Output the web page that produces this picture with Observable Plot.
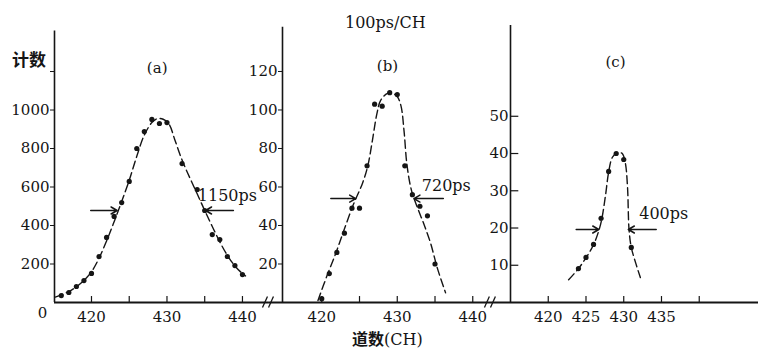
<!DOCTYPE html>
<html><head><meta charset="utf-8">
<script src="https://cdn.jsdelivr.net/npm/d3@7"></script>
<script src="https://cdn.jsdelivr.net/npm/@observablehq/plot@0.6"></script>
<style>
html,body{margin:0;padding:0;background:#fff;}
#chart{position:relative;width:758px;height:350px;overflow:hidden;background:#fff;color:#151515;}
#chart svg{position:absolute;left:0;top:0;}
.lbl{position:absolute;white-space:nowrap;line-height:1;color:#151515;}
</style></head><body>
<div id="chart">
 <div class="lbl" style="left:12px;top:46px;font:700 17px 'Noto Sans CJK SC'">计数</div>
 <div class="lbl" style="left:345px;top:13px;font:16px 'DejaVu Serif'">100ps/CH</div>
 <div class="lbl" style="left:352px;top:326px;font:700 16px 'Noto Sans CJK SC'">道数<span style="font-family:'DejaVu Serif';font-weight:400">(CH)</span></div>
</div>
<script>
// ---------- data ----------
// Panel (a)
const chA  = [416,417,418,419,420,421,422,423,424,425,426,427,428,429,430,432,434,435,436,437,438,439,440];
const cntA = [36,52,83,114,151,239,338,447,519,629,800,888,951,930,935,722,587,478,353,327,239,192,145];
const fitChA  = [415.2,416,417,418,419,420,421,422,423,424,425,426,427,428,428.7,429.5,430.3,431,432,433,434,435,436,437,438,439,440,440.4];
const fitCntA = [28,40,57,82,115,160,230,320,420,525,635,760,870,935,955,952,925,850,740,650,565,478,395,315,245,190,150,138];
const fwhmA = {left:[419.9,423.4], right:[438.8,435.1], level:478, label:"1150ps", labelAt:[438.0,556]};
// Panel (b)
const chB  = [420,421,422,423,424,425,426,427,428,429,430,431,432,433,434,435];
const cntB = [2,15,26,36,49,49,71,103,102,109,108,71,56,50,45,20];
const fitChB  = [419.5,420.7,421.9,422.8,424.2,425.4,426.1,426.7,427.3,427.8,428.7,429.4,430.0,430.5,430.9,431.3,431.9,432.7,433.5,434.4,435.3,436.4];
const fitCntB = [1,14,26,36,51,62,71,84,98,105,108.6,108.6,107,102,89,71,58,49,41,31,18,5];
const fwhmB = {left:[421.2,424.5], right:[436.1,432.2], level:54, label:"720ps", labelAt:[436.5,60.8]};
// Panel (c)
const chC  = [424,425,426,427,428,429,430,431];
const cntC = [9.1,12.1,15.6,22.6,35.2,40,38.4,14.8];
const fitChC  = [422.7,424.0,425.0,426.0,426.7,427.1,427.6,428.0,428.5,429.2,429.8,430.2,430.5,430.7,431.0,431.6,432.2];
const fitCntC = [6.1,9.1,12,15.5,19.3,22.5,29,35,39,40.3,40,37.6,31,19.6,14.8,10.5,6.7];
const fwhmC = {left:[423.7,426.7], right:[434.3,430.6], level:19.6, label:"400ps", labelAt:[435.3,23.9]};

// ticks
const yTicksA = [200,400,600,800,1000]; const yBlankA = [1200];
const yTicksB = [20,40,60,80,100,120];
const yTicksC = [10,20,30,40,50];
const xTickMarksA = [420,425,430,435,440]; const xLabelsA = [420,430,440];
const xTickMarksB = [420,425,430,435,440]; const xLabelsB = [420,430,440];
const xTickMarksC = [420,425,430,435,440]; const xLabelsC = [420,425,430,435];
const panelNames = ["(a)","(b)","(c)"];

// ---------- drawing ----------
const INK = "#151515";
const W = 758, H = 350, MB = 48;
const zip = (xs, ys) => xs.map((x, i) => ({x, y: ys[i]}));
const font = "DejaVu Serif";
const plain = d => String(d);

function panel(cfg) {
  const pts = zip(cfg.ch, cfg.cnt);
  const fit = zip(cfg.fitCh, cfg.fitCnt);
  const f = cfg.fwhm;
  const arrows = [
    {x1: f.left[0], x2: f.left[1], y: f.level},
    {x1: f.right[0], x2: f.right[1], y: f.level}
  ];
  const x0 = cfg.xDomain[0];
  const marks = [
    Plot.ruleX([x0], {stroke: INK, strokeWidth: 1.6}),
    Plot.ruleY([{y: 0, x1: cfg.base[0], x2: cfg.base[1]}], {y: "y", x1: "x1", x2: "x2", stroke: INK, strokeWidth: 1.8}),
    Plot.ruleX(cfg.xTickMarks, {y1: 0, y2: cfg.tickUp, stroke: INK, strokeWidth: 1.2}),
    Plot.axisX({ticks: cfg.xLabels, tickFormat: plain, tickSize: 0, tickPadding: 9, label: null, fontSize: 15, fontFamily: font}),
    Plot.line(fit, {x: "x", y: "y", curve: "catmull-rom", stroke: INK, strokeWidth: 1.4, strokeDasharray: "8,4"}),
    Plot.dot(pts, {x: "x", y: "y", r: 2.6, fill: INK, stroke: "none"}),
    Plot.arrow(arrows, {x1: "x1", x2: "x2", y1: "y", y2: "y", stroke: INK, strokeWidth: 1.5, headLength: 7}),
    Plot.text([{x: f.labelAt[0], y: f.labelAt[1], t: f.label}], {x: "x", y: "y", text: "t", fontSize: 16, fontFamily: font, fill: INK}),
    Plot.text([{x: cfg.nameAt[0], y: cfg.nameAt[1], t: cfg.name}], {x: "x", y: "y", text: "t", fontSize: 15, fontFamily: font, fill: INK})
  ];
  if (cfg.inside) {
    marks.push(Plot.axisY({ticks: cfg.yTicks, tickFormat: plain, tickSize: 0, tickPadding: 2, label: null, fontSize: 15, fontFamily: font}));
    marks.push(Plot.ruleY(cfg.yTicks, {x1: x0, x2: x0 + 1.1, stroke: INK, strokeWidth: 1.2}));
  } else {
    marks.push(Plot.axisY({ticks: cfg.yTicks, tickFormat: plain, tickSize: 4, tickPadding: 1, label: null, fontSize: 15, fontFamily: font}));
    if (cfg.yBlank) marks.push(Plot.axisY({ticks: cfg.yBlank, tickFormat: () => "", tickSize: 4, label: null}));
  }
  if (cfg.zero) marks.push(Plot.text([{x: x0, y: 0, t: "0"}], {x: "x", y: "y", text: "t", dx: -12, dy: 11, fontSize: 15, fontFamily: font, fill: INK}));
  if (cfg.breaks) marks.push(Plot.link(cfg.breaks, {x1: "x1", x2: "x2", y1: "y1", y2: "y2", stroke: INK, strokeWidth: 1.3}));
  return Plot.plot({
    width: W, height: H,
    marginLeft: cfg.mL, marginRight: cfg.mR, marginTop: cfg.mT, marginBottom: MB,
    x: {domain: cfg.xDomain},
    y: {domain: cfg.yDomain},
    style: {background: "transparent", color: INK, fontFamily: font, fontSize: "15px", overflow: "visible"},
    marks
  });
}

const chart = document.getElementById("chart");
chart.appendChild(panel({
  ch: chA, cnt: cntA, fitCh: fitChA, fitCnt: fitCntA, fwhm: fwhmA,
  xDomain: [415.1, 443.45], yDomain: [0, 1410], mL: 54, mR: 490, mT: 30.6,
  base: [415.1, 443.45], tickUp: 31, xTickMarks: xTickMarksA, xLabels: xLabelsA,
  yTicks: yTicksA, yBlank: yBlankA, zero: true, name: panelNames[0], nameAt: [428.7, 1216]
}));
chart.appendChild(panel({
  ch: chB, cnt: cntB, fitCh: fitChB, fitCnt: fitCntB, fwhm: fwhmB,
  xDomain: [414.8, 442.35], yDomain: [0, 143], mL: 282, mR: 268, mT: 26.7,
  base: [412.95, 442.35], tickUp: 3.1, xTickMarks: xTickMarksB, xLabels: xLabelsB,
  yTicks: yTicksB, name: panelNames[1], nameAt: [428.7, 123],
  breaks: [
    {x1: 412.15, x2: 412.81, y1: -2.6, y2: 3.1},
    {x1: 412.95, x2: 413.6, y1: -2.6, y2: 3.1},
    {x1: 441.55, x2: 442.2, y1: -2.6, y2: 3.1},
    {x1: 442.35, x2: 443.0, y1: -2.6, y2: 3.1}
  ]
}));
chart.appendChild(panel({
  ch: chC, cnt: cntC, fitCh: fitChC, fitCnt: fitCntC, fwhm: fwhmC,
  xDomain: [415, 447.85], yDomain: [0, 74.4], mL: 510, mR: 0, mT: 24.9,
  base: [412.35, 447.85], tickUp: 1.6, xTickMarks: xTickMarksC, xLabels: xLabelsC,
  yTicks: yTicksC, inside: true, name: panelNames[2], nameAt: [428.9, 64.4]
}));
</script>
</body></html>
